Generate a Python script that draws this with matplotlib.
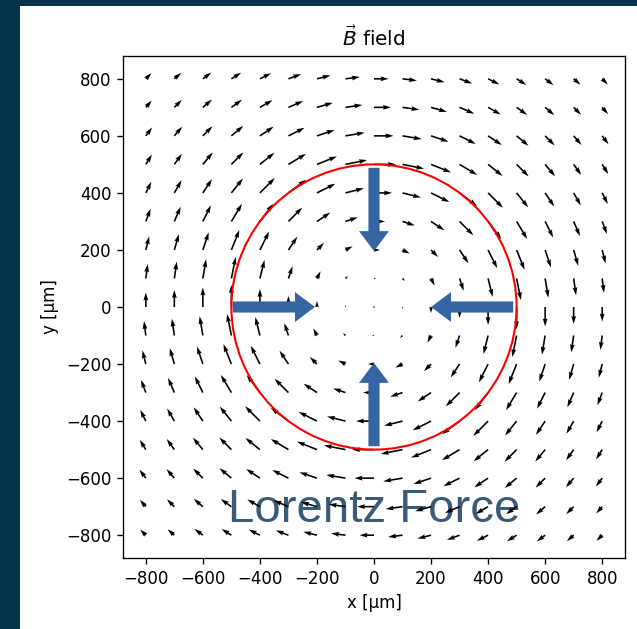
#!/usr/bin/env python3
"""B field quiver with the Lorentz force overlay."""

import matplotlib
matplotlib.use("Agg")
import matplotlib.pyplot as plt
from matplotlib.patches import Circle, FancyArrow, Rectangle
import numpy as np

# grid of the field samples, in um
grid_x = [-800, -700, -600, -500, -400, -300, -200, -100, 0,
          100, 200, 300, 400, 500, 600, 700, 800]
grid_y = list(grid_x)

# arrow length (screen px), by |iy| (rows) and |ix| (cols)
# the field is symmetric, so one quadrant gives every sample
mag_px = [
    [0.0, 2.0, 6.0, 11.0, 18.0, 22.0, 19.5, 17.0, 14.5],
    [2.0, 3.5, 8.0, 13.0, 19.0, 22.0, 19.5, 17.0, 14.5],
    [6.0, 8.0, 10.0, 16.0, 20.5, 21.5, 18.5, 16.5, 14.0],
    [11.0, 13.0, 16.0, 19.5, 22.0, 20.5, 18.0, 16.0, 13.5],
    [18.0, 19.0, 20.5, 22.0, 21.0, 18.5, 16.5, 14.5, 12.5],
    [22.0, 22.0, 21.5, 20.5, 18.5, 17.0, 15.5, 13.0, 11.5],
    [19.5, 19.5, 18.5, 18.0, 16.5, 15.5, 13.5, 12.0, 10.5],
    [17.0, 17.0, 16.5, 16.0, 14.5, 13.0, 12.0, 10.5, 9.0],
    [14.5, 14.5, 14.0, 13.5, 12.5, 11.5, 10.5, 9.0, 8.0],
]

wire_radius = 500
# force arrows: tail (x, y), tip (x, y)
force_arrows = [
    ((-495, 0), (-207, 0)),
    ((488, 0), (200, 0)),
    ((0, 488), (0, 196)),
    ((0, -488), (0, -196)),
]

BG = "#05324a"
FORCE_BLUE = "#3565a3"
TEXT_BLUE = "#3b5a78"
DPI = 120

fig = plt.figure(figsize=(637 / DPI, 629 / DPI), dpi=DPI)
fig.patch.set_facecolor(BG)
fig.add_artist(Rectangle((20 / 637, 0), 1, 623 / 629, transform=fig.transFigure,
                         facecolor="white", edgecolor="none", zorder=-10))

ax = fig.add_axes([123 / 637, 71 / 629, 502 / 637, 502 / 629])
ax.set_xlim(-880, 880)
ax.set_ylim(-880, 880)
ax.set_aspect("equal")

px_per_unit = 502 / 1760
X, Y = np.meshgrid(grid_x, grid_y)
mag = np.array(mag_px)
iy = np.abs(np.arange(len(grid_y)) - 8)
ix = np.abs(np.arange(len(grid_x)) - 8)
M = mag[np.ix_(iy, ix)] / px_per_unit
R = np.hypot(X, Y)
R[R == 0] = 1
U = M * Y / R
V = -M * X / R

ax.text(0, -754, "Lorentz Force", color=TEXT_BLUE, fontsize=28.4,
        family="Liberation Sans", ha="center", va="baseline", zorder=1)
ax.quiver(X, Y, U, V, angles="xy", scale_units="xy", scale=1,
          width=0.0032, color="black", zorder=2)
ax.add_patch(Circle((0, 0), wire_radius, fill=False, edgecolor="red",
                    linewidth=1.25, zorder=3))
for (x0, y0), (x1, y1) in force_arrows:
    ax.add_patch(FancyArrow(x0, y0, x1 - x0, y1 - y0, width=39,
                            head_width=105, head_length=70,
                            length_includes_head=True, color=FORCE_BLUE,
                            linewidth=0, zorder=4))

ax.set_xticks(range(-800, 801, 200))
ax.set_yticks(range(-800, 801, 200))
ax.set_xlabel("x [µm]")
ax.set_ylabel("y [µm]")
ax.set_title(r"$\vec{B}$ field")

fig.savefig("out.png", dpi=DPI, facecolor=fig.get_facecolor())
